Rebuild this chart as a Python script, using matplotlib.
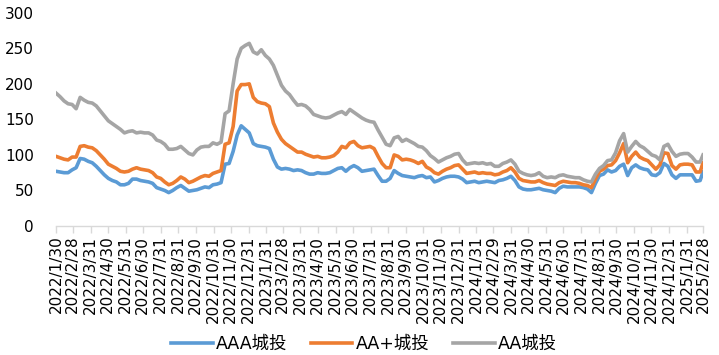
import matplotlib
matplotlib.use("Agg")
import matplotlib.pyplot as plt
import matplotlib.dates as mdates
import pandas as pd
import numpy as np

plt.rcParams['font.family'] = ['DejaVu Sans', 'Noto Sans CJK SC']

# weekly observation dates (last point 2025/2/28)
dates = list(pd.date_range('2022-01-30', periods=161, freq='7D')) + [pd.Timestamp('2025-02-28')]

aaa = [77, 76, 75, 75, 79, 82, 95, 94, 91, 89, 84, 78, 72, 67, 64, 62, 58, 58, 60, 66,
       66, 64, 63, 62, 60, 54, 52, 50, 47, 50, 54, 57, 53, 49, 50, 51, 53, 55, 54, 58,
       59, 61, 87, 88, 105, 128, 141, 136, 131, 116, 113, 112, 111, 109, 94, 83, 80, 81, 80, 78,
       79, 78, 75, 73, 73, 75, 74, 74, 75, 78, 81, 82, 77, 82, 85, 82, 77, 78, 79, 80,
       71, 63, 63, 67, 78, 74, 71, 70, 69, 68, 70, 71, 68, 69, 62, 64, 67, 69, 70, 70,
       69, 66, 61, 62, 63, 61, 62, 63, 62, 61, 64, 65, 67, 70, 64, 55, 52, 51, 51, 52,
       53, 51, 50, 49, 47, 53, 56, 55, 55, 55, 55, 54, 52, 47, 60, 71, 73, 79, 76, 78,
       84, 87, 71, 82, 86, 82, 80, 79, 72, 71, 75, 88, 84, 72, 67, 72, 72, 72, 72, 63,
       64, 76]

aa_plus = [98, 96, 94, 93, 97, 97, 112, 113, 111, 110, 106, 100, 94, 87, 84, 81, 77, 76, 77, 80,
           82, 80, 79, 78, 75, 69, 67, 62, 58, 60, 64, 69, 66, 61, 63, 66, 69, 71, 70, 74,
           76, 78, 115, 117, 140, 190, 199, 199, 200, 181, 175, 173, 172, 168, 145, 132, 122, 116, 112, 108,
           104, 104, 101, 99, 97, 98, 96, 96, 97, 99, 104, 112, 110, 117, 119, 113, 110, 111, 112, 109,
           98, 88, 82, 82, 100, 98, 93, 94, 93, 91, 88, 91, 83, 80, 75, 73, 77, 80, 82, 85,
           86, 80, 74, 75, 76, 74, 75, 74, 74, 72, 73, 76, 78, 82, 76, 67, 64, 63, 62, 62,
           64, 61, 59, 58, 57, 61, 63, 62, 61, 61, 60, 58, 57, 54, 66, 77, 80, 85, 86, 92,
           103, 116, 89, 98, 104, 97, 94, 92, 86, 80, 86, 103, 102, 85, 80, 86, 87, 87, 86, 76,
           76, 89]

aa = [187, 182, 176, 172, 171, 165, 181, 177, 174, 173, 169, 162, 155, 148, 144, 140, 136, 131, 133, 134,
      131, 132, 131, 131, 128, 121, 119, 115, 108, 108, 109, 112, 107, 102, 100, 107, 111, 112, 112, 117,
      115, 118, 158, 162, 200, 235, 250, 254, 257, 245, 242, 248, 240, 235, 226, 212, 198, 190, 185, 177,
      170, 171, 169, 164, 157, 155, 153, 152, 153, 156, 159, 161, 157, 164, 160, 156, 152, 149, 147, 146,
      135, 125, 115, 113, 124, 126, 119, 122, 119, 116, 112, 111, 106, 99, 95, 90, 93, 96, 98, 101,
      102, 93, 87, 88, 89, 88, 89, 87, 88, 84, 84, 88, 90, 93, 87, 77, 74, 72, 71, 72,
      75, 70, 68, 69, 68, 71, 72, 70, 69, 68, 68, 65, 63, 62, 73, 81, 85, 92, 93, 103,
      120, 130, 104, 112, 119, 113, 110, 105, 100, 98, 93, 112, 115, 105, 98, 101, 102, 102, 97, 90,
      90, 100]

tick_labels = ['2022/1/30', '2022/2/28', '2022/3/31', '2022/4/30', '2022/5/31', '2022/6/30',
               '2022/7/31', '2022/8/31', '2022/9/30', '2022/10/31', '2022/11/30', '2022/12/31',
               '2023/1/31', '2023/2/28', '2023/3/31', '2023/4/30', '2023/5/31', '2023/6/30',
               '2023/7/31', '2023/8/31', '2023/9/30', '2023/10/31', '2023/11/30', '2023/12/31',
               '2024/1/31', '2024/2/29', '2024/3/31', '2024/4/30', '2024/5/31', '2024/6/30',
               '2024/7/31', '2024/8/31', '2024/9/30', '2024/10/31', '2024/11/30', '2024/12/31',
               '2025/1/31', '2025/2/28']

series_names = ['AAA城投', 'AA+城投', 'AA城投']
colors = ['#5B9BD5', '#ED7D31', '#A5A5A5']

fig = plt.figure(figsize=(7.19, 3.55), dpi=100)
ax = fig.add_axes([56/719, (355-226)/355, (703-56)/719, (226-12.8)/355])

x = mdates.date2num(dates)
for vals, name, c in zip([aaa, aa_plus, aa], series_names, colors):
    ax.plot(x, vals, color=c, lw=2.6, label=name, solid_joinstyle='round')

tick_pos = mdates.date2num([pd.Timestamp(t.replace('/', '-')) for t in tick_labels])
ax.set_xticks(tick_pos)
ax.set_xticklabels(tick_labels, rotation=90, fontsize=11, color='#000000')
ax.set_xlim(tick_pos[0], tick_pos[-1])
ax.set_ylim(0, 300)
ax.set_yticks(np.arange(0, 301, 50))
ax.tick_params(axis='y', length=0, labelsize=11, pad=16, colors='#000000')
ax.tick_params(axis='x', length=5, width=1, color='#D9D9D9', pad=2)
for s in ['top', 'right', 'left']:
    ax.spines[s].set_visible(False)
ax.spines['bottom'].set_color('#D9D9D9')
ax.spines['bottom'].set_linewidth(1)

fig.legend(loc='center', bbox_to_anchor=(364/719, 11/355), ncol=3, frameon=False,
           fontsize=12.5, handlelength=2.4, columnspacing=1.35, handletextpad=0.2)

fig.savefig('out.png', dpi=100)
